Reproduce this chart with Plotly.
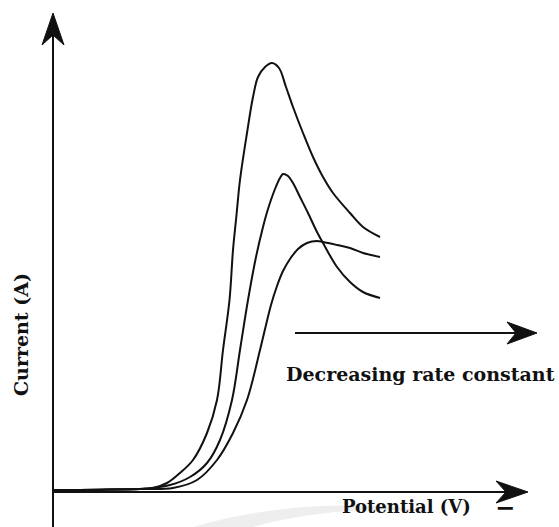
import plotly.graph_objects as go

# Potential (arbitrary units, origin at the axes crossing) and current readings
pot_fast = [0, 27, 57, 87, 100, 114, 127, 140, 154, 164, 170, 176.5, 180, 183.5, 187,
            194, 200, 205, 212, 219, 226, 233, 240, 250, 260, 270, 280, 297, 310, 327]
cur_fast = [2, 2, 2.5, 3, 4, 9, 19, 32, 59, 92, 142, 192, 242, 277, 312,
            359, 395, 415, 425, 429, 424, 405, 385, 359, 335, 315, 299, 279, 265, 255]

pot_mid = [0, 27, 57, 87, 117, 137, 154, 167, 179, 187, 195, 203, 210, 215, 222,
           227, 230, 235, 240, 247, 255, 264, 270, 284, 297, 310, 327]
cur_mid = [2, 2, 2.5, 3, 7, 15, 29, 52, 92, 142, 192, 235, 265, 283, 303,
           314, 318, 316, 309, 295, 279, 260, 249, 225, 210, 200, 194]

pot_slow = [0, 27, 57, 87, 120, 144, 164, 180, 194, 207, 213, 218, 224, 230, 237,
            245, 254, 264, 270, 284, 297, 310, 327]
cur_slow = [2, 2, 2.5, 3, 4, 12, 32, 59, 92, 142, 167, 187, 206, 221, 233,
            243, 249, 251, 250, 247, 244, 239, 235]

series = [(pot_fast, cur_fast), (pot_mid, cur_mid), (pot_slow, cur_slow)]

X_RANGE = [-53, 506]
Y_RANGE = [-35, 492]
INK = "#111111"
FONT = dict(family="DejaVu Serif", size=19, color=INK, weight="bold")

fig = go.Figure()
for xs, ys in series:
    fig.add_trace(go.Scatter(
        x=xs, y=ys, mode="lines",
        line=dict(color=INK, width=2, shape="spline", smoothing=1.0),
        hoverinfo="skip", showlegend=False,
    ))


def head_path(tx, ty, dx, dy, length=32, width=22, notch=22):
    """Swept-back filled arrowhead with its tip at (tx, ty) pointing along (dx, dy)."""
    px, py = -dy, dx
    bx, by = tx - dx * length, ty - dy * length
    nx, ny = tx - dx * notch, ty - dy * notch
    pts = [(tx, ty),
           (bx + px * width / 2, by + py * width / 2),
           (nx, ny),
           (bx - px * width / 2, by - py * width / 2)]
    return "M " + " L ".join(f"{a},{b}" for a, b in pts) + " Z"


shapes = []
# faint grey swoosh near the bottom edge
shapes.append(dict(type="path", xref="x", yref="y", layer="below",
                   path="M 140,-35 Q 260,0 400,-22 Q 290,-10 200,-35 Z",
                   fillcolor="#eeeeee", line=dict(width=0)))

# axes drawn as arrows
x_tip, y_tip = 475, 479
shapes.append(dict(type="line", xref="x", yref="y", x0=0, y0=0, x1=x_tip - 20, y1=0,
                   line=dict(color=INK, width=2)))
shapes.append(dict(type="line", xref="x", yref="y", x0=0, y0=Y_RANGE[0], x1=0, y1=y_tip - 20,
                   line=dict(color=INK, width=2)))
shapes.append(dict(type="path", xref="x", yref="y", path=head_path(x_tip, 0, 1, 0),
                   fillcolor=INK, line=dict(color=INK, width=1)))
shapes.append(dict(type="path", xref="x", yref="y", path=head_path(0, y_tip, 0, 1),
                   fillcolor=INK, line=dict(color=INK, width=1)))

# "decreasing rate constant" arrow
r_y, r_x0, r_x1 = 159, 242, 484
shapes.append(dict(type="line", xref="x", yref="y", x0=r_x0, y0=r_y, x1=r_x1 - 20, y1=r_y,
                   line=dict(color=INK, width=2)))
shapes.append(dict(type="path", xref="x", yref="y", path=head_path(r_x1, r_y, 1, 0, 30, 22, 21),
                   fillcolor=INK, line=dict(color=INK, width=1)))

annotations = [
    dict(text="Decreasing rate constant", x=367, y=118, xref="x", yref="y",
         showarrow=False, font=FONT, xanchor="center", yanchor="middle"),
    dict(text="Potential (V)", x=353, y=-14, xref="x", yref="y",
         showarrow=False, font=dict(FONT, size=18), xanchor="center", yanchor="middle"),
    dict(text="\u2212", x=452, y=-15, xref="x", yref="y",
         showarrow=False, font=dict(family="DejaVu Serif", size=24, color=INK, weight="bold"),
         xanchor="center", yanchor="middle"),
    dict(text="Current (A)", x=-32, y=157, xref="x", yref="y", textangle=-90,
         showarrow=False, font=FONT, xanchor="center", yanchor="middle"),
]

fig.update_layout(
    width=559, height=527,
    margin=dict(l=0, r=0, t=0, b=0),
    paper_bgcolor="white", plot_bgcolor="white",
    xaxis=dict(range=X_RANGE, visible=False, fixedrange=True),
    yaxis=dict(range=Y_RANGE, visible=False, fixedrange=True),
    shapes=shapes, annotations=annotations,
)

fig.write_html("out.html")
